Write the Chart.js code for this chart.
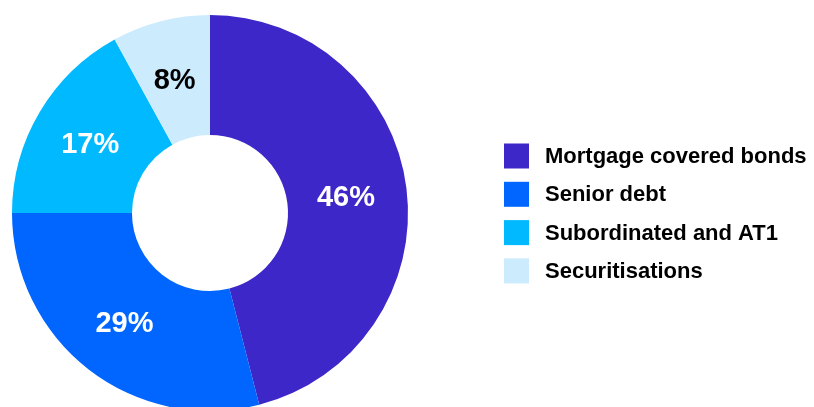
<!DOCTYPE html>
<html>
<head>
<meta charset="utf-8">
<script src="https://cdn.jsdelivr.net/npm/chart.js@4"></script>
<style>
  html, body { margin: 0; padding: 0; background: #ffffff; overflow: hidden; }
  #wrap { width: 814px; height: 407px; overflow: hidden; }
  #funding { display: block; }
</style>
</head>
<body>
<div id="wrap"><canvas id="funding" width="814" height="426"></canvas></div>
<script>
const categories = ['Mortgage covered bonds', 'Senior debt', 'Subordinated and AT1', 'Securitisations'];
const shares = [46, 29, 17, 8];
const sliceColors = ['#3D27C8', '#0066FF', '#00B9FF', '#CCEBFC'];
const labelColors = ['#ffffff', '#ffffff', '#ffffff', '#000000'];

const FONT = '"Liberation Sans", Arial, sans-serif';

// percentages written in the middle of each slice
const sliceLabels = {
	id: 'sliceLabels',
	afterDatasetsDraw(chart) {
		const ctx = chart.ctx;
		const meta = chart.getDatasetMeta(0);
		ctx.save();
		ctx.font = 'bold 29px ' + FONT;
		ctx.textAlign = 'center';
		ctx.textBaseline = 'middle';
		meta.data.forEach((arc, i) => {
			const pos = arc.tooltipPosition();
			ctx.fillStyle = labelColors[i];
			ctx.fillText(shares[i] + '%', pos.x - 1, pos.y + 2);
		});
		ctx.restore();
	}
};

// legend block to the right of the ring
const sideLegend = {
	id: 'sideLegend',
	afterDraw(chart) {
		const ctx = chart.ctx;
		ctx.save();
		ctx.font = 'bold 22px ' + FONT;
		ctx.textAlign = 'left';
		ctx.textBaseline = 'middle';
		categories.forEach((name, i) => {
			const y = 156 + i * 38.3;
			ctx.fillStyle = sliceColors[i];
			ctx.fillRect(504, y - 12.5, 25, 25);
			ctx.fillStyle = '#000000';
			ctx.fillText(name, 545, y + 1);
		});
		ctx.restore();
	}
};

new Chart(document.getElementById('funding'), {
	type: 'doughnut',
	data: {
		labels: categories,
		datasets: [{
			data: shares,
			backgroundColor: sliceColors,
			borderWidth: 0,
			hoverOffset: 0
		}]
	},
	options: {
		responsive: false,
		animation: false,
		cutout: '39.4%',
		layout: { padding: { left: 12, top: 15, right: 406, bottom: 15 } },
		plugins: {
			legend: { display: false },
			tooltip: { enabled: false }
		}
	},
	plugins: [sliceLabels, sideLegend]
});
</script>
</body>
</html>
